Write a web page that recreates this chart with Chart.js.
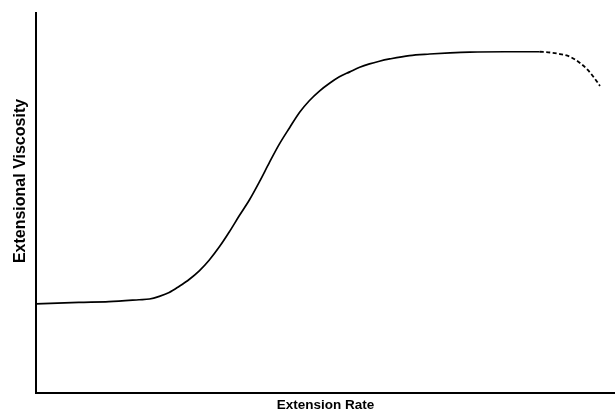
<!DOCTYPE html>
<html>
<head>
<meta charset="utf-8">
<script src="https://cdn.jsdelivr.net/npm/chart.js@4"></script>
<style>
html,body{margin:0;padding:0;background:#fff;}
#wrap{width:615px;height:413px;position:relative;}
</style>
</head>
<body>
<div id="wrap"><canvas id="c"></canvas></div>
<script>
// Extension rate (arbitrary units, 0-100) and extensional viscosity (arbitrary units, 0-100)
const solidX = [0.0, 7.4, 12.6, 17.8, 19.6, 21.3, 23.0, 24.7, 26.5, 28.2, 29.9, 31.7, 33.4, 35.1, 36.9, 38.6, 40.3, 42.0, 43.8, 45.5, 47.2, 49.0, 50.7, 52.4, 54.2, 55.9, 57.6, 59.3, 61.1, 64.5, 68.0, 71.5, 74.9, 81.0, 87.0];
const solidY = [23.4, 23.8, 24.0, 24.5, 24.7, 25.4, 26.4, 28.0, 29.9, 32.1, 34.9, 38.5, 42.4, 46.6, 50.9, 55.6, 60.6, 65.4, 69.8, 73.8, 76.9, 79.5, 81.5, 83.2, 84.5, 85.7, 86.6, 87.3, 87.9, 88.8, 89.2, 89.5, 89.7, 89.8, 89.8];
const dashX = [87.0, 88.8, 90.5, 92.2, 93.9, 95.3, 96.9, 97.4];
const dashY = [89.8, 89.6, 89.2, 88.5, 86.9, 85.0, 81.9, 80.8];
const xTitle = 'Extension Rate';
const yTitle = 'Extensional Viscosity';

const toPts = (xs, ys) => xs.map((x, i) => ({x: x, y: ys[i]}));

const yTitlePlugin = {
  id: 'yTitle',
  afterDraw(chart) {
    const ctx = chart.ctx;
    ctx.save();
    ctx.translate(21, 181);
    ctx.rotate(-Math.PI / 2);
    ctx.textAlign = 'center';
    ctx.textBaseline = 'middle';
    ctx.fillStyle = '#000';
    ctx.font = 'bold 16px "Liberation Sans", Arial, sans-serif';
    ctx.fillText(yTitle, 0, 0);
    ctx.restore();
  }
};

new Chart(document.getElementById('c'), {
  type: 'line',
  data: {
    datasets: [
      {data: toPts(solidX, solidY), borderColor: '#000', borderWidth: 1.7, pointRadius: 0, cubicInterpolationMode: 'monotone', fill: false},
      {data: toPts(dashX, dashY), borderColor: '#000', borderWidth: 1.8, borderDash: [4, 2.5], pointRadius: 0, cubicInterpolationMode: 'monotone', fill: false}
    ]
  },
  options: {
    responsive: true,
    maintainAspectRatio: false,
    animation: false,
    layout: {padding: {left: 36, right: 0, top: 13, bottom: 0}},
    plugins: {legend: {display: false}, tooltip: {enabled: false}},
    scales: {
      x: {
        type: 'linear', min: 0, max: 100,
        grid: {display: false, drawTicks: false},
        ticks: {display: false},
        border: {display: true, color: '#000', width: 2},
        title: {display: true, text: xTitle, color: '#000', font: {family: 'Liberation Sans, Arial, sans-serif', size: 13.5, weight: 'bold'}, padding: {top: 4, bottom: 0}}
      },
      y: {
        type: 'linear', min: 0, max: 100,
        grid: {display: false, drawTicks: false},
        ticks: {display: false},
        border: {display: true, color: '#000', width: 2},
        title: {display: false}
      }
    }
  },
  plugins: [yTitlePlugin]
});
</script>
</body>
</html>
